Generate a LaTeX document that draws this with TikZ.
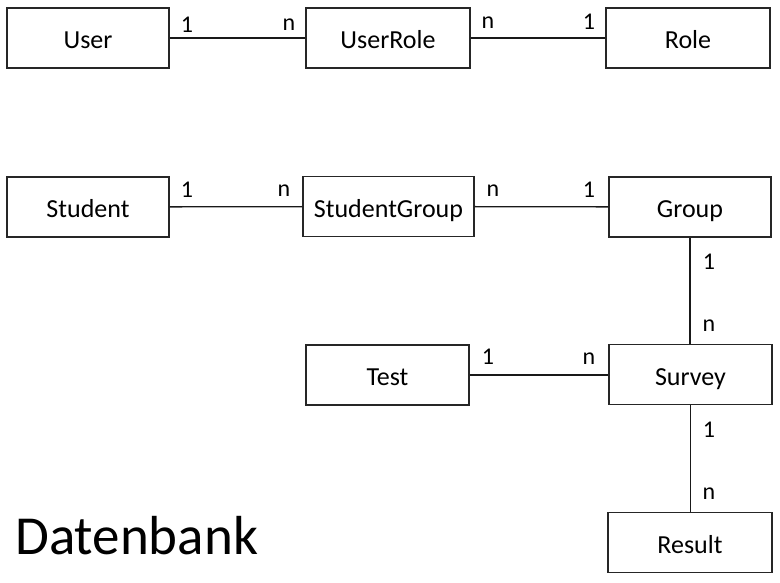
\documentclass[tikz,border=0pt]{standalone}
\usepackage{fontspec}
\setmainfont{Carlito}
\begin{document}
\begin{tikzpicture}[x=1pt,y=-1pt,
  entity/.style={draw=black!85,line width=1.3pt,minimum height=60pt,inner sep=0pt,text height=21pt,text depth=0pt,font=\fontsize{26}{30}\selectfont},
  card/.style={inner sep=0pt,font=\fontsize{24}{28}\selectfont},
  rel/.style={line width=1.3pt,draw=black!90}]
\useasboundingbox (0,0) rectangle (780,582);
\node[entity,minimum width=162pt] (user) at (88,38) {User};
\node[entity,minimum width=164pt] (userrole) at (388,38) {UserRole};
\node[entity,minimum width=164pt] (role) at (688,38) {Role};
\node[entity,minimum width=162pt] (student) at (88,207) {Student};
\node[entity,minimum width=171pt] (studentgroup) at (388.5,206.5) {StudentGroup};
\node[entity,minimum width=162pt] (group) at (690,207) {Group};
\node[entity,minimum width=163pt] (test) at (387.5,375) {Test};
\node[entity,minimum width=163pt] (survey) at (690.5,374.5) {Survey};
\node[entity,minimum width=164pt] (result) at (690,542.5) {Result};
\draw[rel] (user) -- (userrole);
\draw[rel] (userrole) -- (role);
\draw[rel] (student) -- (studentgroup);
\draw[rel] (studentgroup) -- (group);
\draw[rel] (test.east) -- (test.east -| survey.west);
\draw[rel] (group) -- (group |- survey.north);
\draw[rel] (survey) -- (survey |- result.north);
\node[card] (c1) at (187,25) {1};
\node[card] (c2) at (289,25) {n};
\node[card] (c3) at (488,23) {n};
\node[card] (c4) at (589,22) {1};
\node[card] (c5) at (187,190) {1};
\node[card] (c6) at (284,191) {n};
\node[card] (c7) at (493,191) {n};
\node[card] (c8) at (589,190) {1};
\node[card] (c9) at (709,262) {1};
\node[card] (c10) at (709,326) {n};
\node[card] (c11) at (488,357) {1};
\node[card] (c12) at (589,359) {n};
\node[card] (c13) at (709,430) {1};
\node[card] (c14) at (709,494) {n};
\node[anchor=base west,inner sep=0pt,font=\fontsize{55}{60}\selectfont] (title) at (15,554) {Datenbank};
\end{tikzpicture}
\end{document}
